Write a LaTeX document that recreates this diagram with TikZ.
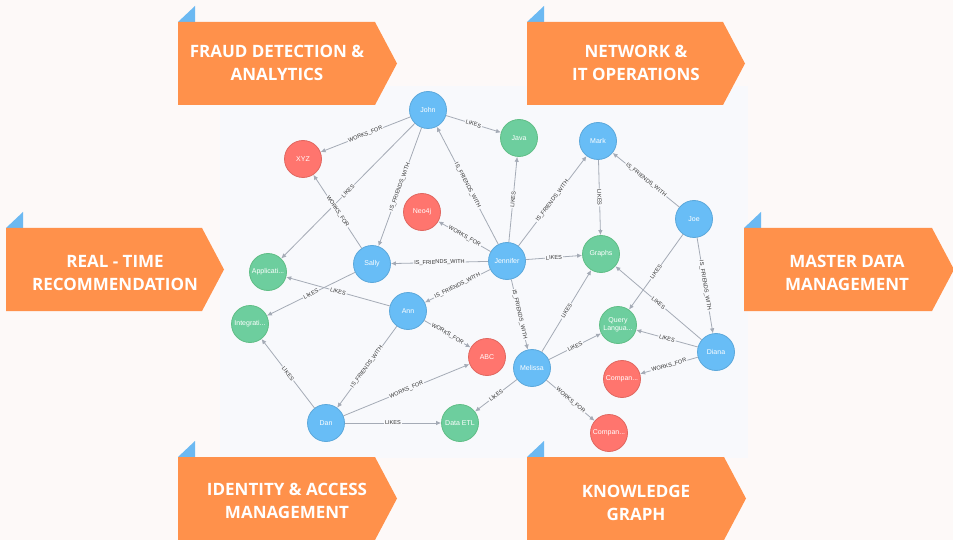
\documentclass[tikz,border=0pt]{standalone}
\usepackage{fontspec}
\setmainfont{Liberation Sans}
\newfontfamily\bannerfont{Open Sans}
\usetikzlibrary{arrows.meta}

\definecolor{bgcol}{HTML}{FDF9F8}
\definecolor{panel}{HTML}{F8F9FC}
\definecolor{orng}{HTML}{FF914B}
\definecolor{tri}{HTML}{6CB9F2}
\definecolor{nblue}{HTML}{68BDF6}
\definecolor{nblueb}{HTML}{5CA8DB}
\definecolor{ngreen}{HTML}{6DCE9E}
\definecolor{ngreenb}{HTML}{60BE86}
\definecolor{nred}{HTML}{FF756E}
\definecolor{nredb}{HTML}{E06760}
\definecolor{edgegray}{HTML}{A5ABB6}

\tikzset{
  gnode/.style={circle, minimum size=37pt, inner sep=0pt, line width=0.8pt,
    text=white, align=center, font=\fontsize{7}{8}\selectfont},
  person/.style={gnode, fill=nblue, draw=nblueb},
  topic/.style={gnode, fill=ngreen, draw=ngreenb},
  company/.style={gnode, fill=nred, draw=nredb},
  rel/.style={->, draw=edgegray, line width=0.8pt},
  rlabel/.style={sloped, fill=panel, inner sep=1pt, text=black!80,
    font=\fontsize{5.6}{6}\selectfont}
}

\begin{document}
\begin{tikzpicture}[x=1pt, y=-1pt, >={Latex[length=5pt,width=4.5pt]}]

% Page and graph panel
\fill [bgcol] (0,0) rectangle (953,540);
\useasboundingbox (0,0) rectangle (953,540);
\fill [panel] (220,86) rectangle (748,458);

% The graph nodes
\node [person]  (john)     at (428,110) {John};
\node [topic]   (java)     at (519,138) {Java};
\node [company] (xyz)      at (303,159) {XYZ};
\node [company] (neo)      at (422,212) {Neo4j};
\node [person]  (jennifer) at (507,261) {Jennifer};
\node [person]  (mark)     at (598,141) {Mark};
\node [topic]   (graphs)   at (601,254) {Graphs};
\node [person]  (joe)      at (694,219) {Joe};
\node [person]  (sally)    at (372,264) {Sally};
\node [topic]   (appl)     at (268,272) {Applicati...};
\node [topic]   (integ)    at (250,324) {Integrati...};
\node [person]  (ann)      at (408,311) {Ann};
\node [person]  (dan)      at (326,423) {Dan};
\node [company] (abc)      at (487,357) {ABC};
\node [person]  (melissa)  at (532,368) {Melissa};
\node [topic]   (etl)      at (460,423) {Data ETL};
\node [topic]   (query)    at (618,325) {Query\\Langua...};
\node [person]  (diana)    at (716,352) {Diana};
\node [company] (compa)    at (622,379) {Compan...};
\node [company] (compb)    at (609,433) {Compan...};

% Relationships
\foreach \a/\b/\lab in {
  john/xyz/WORKS\_FOR,
  john/java/LIKES,
  john/sally/IS\_FRIENDS\_WITH,
  john/appl/LIKES,
  sally/xyz/WORKS\_FOR,
  jennifer/john/IS\_FRIENDS\_WITH,
  jennifer/java/LIKES,
  jennifer/neo/WORKS\_FOR,
  jennifer/mark/IS\_FRIENDS\_WITH,
  jennifer/sally/IS\_FRIENDS\_WITH,
  jennifer/graphs/LIKES,
  jennifer/ann/IS\_FRIENDS\_WITH,
  jennifer/melissa/IS\_FRIENDS\_WITH,
  mark/graphs/LIKES,
  joe/mark/IS\_FRIENDS\_WITH,
  joe/query/LIKES,
  joe/diana/IS\_FRIENDS\_WITH,
  sally/integ/LIKES,
  ann/appl/LIKES,
  ann/dan/IS\_FRIENDS\_WITH,
  ann/abc/WORKS\_FOR,
  dan/integ/LIKES,
  dan/abc/WORKS\_FOR,
  dan/etl/LIKES,
  melissa/graphs/LIKES,
  melissa/query/LIKES,
  melissa/etl/LIKES,
  melissa/compb/WORKS\_FOR,
  diana/graphs/LIKES,
  diana/query/LIKES,
  diana/compa/WORKS\_FOR} {
  \draw [rel] (\a) -- node [rlabel] {\lab} (\b);
}

% The orange banners with their blue corner flags
\foreach \x/\y/\w/\tx/\ty/\txt in {
  178/22/197/277/63/{FRAUD DETECTION \&\\ANALYTICS},
  527/22/196/636/63/{NETWORK \&\\IT OPERATIONS},
  6/228/196/115/273/{REAL - TIME\\RECOMMENDATION},
  744/228/188/847/273/{MASTER DATA\\MANAGEMENT},
  178/457/197/287/501/{IDENTITY \& ACCESS\\MANAGEMENT},
  527/457/197/636/503/{KNOWLEDGE\\GRAPH}} {
  \fill [tri] (\x,\y) -- (\x+17,\y) -- (\x+17,\y-16) -- cycle;
  \fill [orng] (\x,\y) -- (\x+\w,\y) -- (\x+\w+22,\y+41.5)
    -- (\x+\w,\y+83) -- (\x,\y+83) -- cycle;
  \node [text=white, align=center,
    font=\bannerfont\bfseries\fontsize{17}{23}\selectfont]
    at (\tx,\ty) {\txt};
}

\end{tikzpicture}
\end{document}
